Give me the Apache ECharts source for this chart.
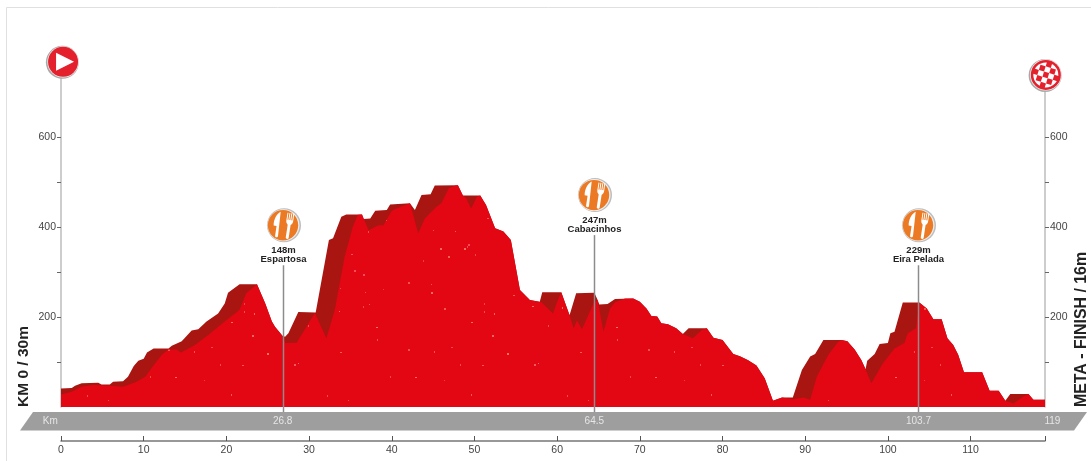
<!DOCTYPE html>
<html><head><meta charset="utf-8">
<style>html,body{margin:0;padding:0;background:#fff}#c{width:1091px;height:461px}</style>
<script src="https://cdn.jsdelivr.net/npm/echarts@6/dist/echarts.min.js"></script>
</head><body><div id="c"></div>
<script>
// Back (dark) profile of the relief
const backKm = [0,1.3,1.7,2.5,4.5,4.9,5.9,6.3,7.5,8.1,8.8,9.35,10,10.4,11.2,13,13.4,14.6,15.8,16.6,17.6,19,19.8,20.2,21.6,23.7,24.7,25.5,25.9,26.8,27.1,27.5,28.7,30.8,32.4,32.9,33.9,34.5,36.4,36.6,37.4,38,39.4,39.8,42.2,42.8,43.6,44.7,45.2,48,48.6,50.7,51.4,52.5,53.5,54.4,55.5,56.7,57.9,58.2,60.5,61.5,62.3,64.5,64.9,65.1,66.1,67,69.2,70,70.8,71.4,72.1,72.6,73.4,74.4,75.2,75.9,78.1,78.9,80,81.3,82.1,83.1,84.1,85.1,86.1,87.2,88.5,89.6,90.6,91.2,92.2,94.4,95.1,96,96.8,97.3,97.5,98.4,99,100,100.3,100.8,101.8,103.8,104.7,105.5,106.5,107.2,107.9,108.5,109.2,111.4,112.3,113.4,114.2,114.8,117,117.6,119];
const backElev = [41,42,47,53,54,50,50,56,57,67,91,103,107,121,130,130,136,146,170,173,190,208,230,254,273,273,230,190,178,158,156,164,211,210,371,375,423,428,428,418,419,436,438,450,453,438,471,473,492,493,470,470,449,397,390,371,260,238,234,255,255,204,253,254,238,228,229,240,241,234,219,202,201,186,184,175,162,175,175,154,149,118,113,104,92,64,14,21,21,82,112,118,149,149,146,127,104,84,103,118,140,142,164,167,232,232,219,195,195,153,138,116,77,77,36,36,14,29,29,16,16];
// Front (bright) profile of the relief
const frontKm = [0,1.3,2.5,3.9,5.9,7.5,9,10.2,11,12.2,13,14,14.5,16.2,17.8,19.8,21.6,22.4,23.7,24.7,25.5,25.9,26.8,27.1,28.5,30.7,32.1,33.1,34.3,35.3,35.9,36.4,37.2,38.4,39,40,40.6,42.2,43.2,44,45.4,46,46.9,47.7,48,48.6,49,49.6,50.3,50.7,51.4,52.5,53.5,54.4,55.5,56.7,58.1,59.5,60,60.5,61.5,62,62.4,63,64.4,64.9,65.6,66.4,67,68.2,69.2,70,70.8,71.4,72.1,72.6,73.4,74.4,75.2,76.4,77.5,78.1,78.9,80,81.3,82.1,83.1,84.1,85.1,86.1,87.2,88.5,89.8,90.6,91.4,92.8,94,94.4,95.1,96,96.8,97.3,98,99.4,100.8,102,102.4,103.4,103.8,104.7,105.5,106.5,107.2,107.9,108.5,109.2,111.4,112.3,113.4,114.2,115.2,116.3,117,117.6,119];
const frontElev = [28,34,45,49,47,45,55,67,88,116,128,128,121,138,160,190,216,253,273,230,190,178,158,142,143,209,153,215,334,401,427,428,393,404,404,436,441,453,386,419,445,453,486,492,493,470,464,441,467,470,449,397,390,371,260,238,233,208,234,255,204,175,193,173,230,238,167,219,233,241,241,234,219,202,201,186,184,175,162,153,171,175,154,149,118,113,104,92,64,14,21,17,21,16,67,116,145,149,146,127,104,84,53,97,130,142,164,175,232,219,195,195,153,138,116,77,77,36,36,14,8,22,29,16,16];

// Feed zones
const stopKm = [26.8,64.5,103.7];
const stopTop = [315,382,315];
const stopElev = ['148m','247m','229m'];
const stopName = ['Espartosa','Cabacinhos','Eira Pelada'];

// Start / finish markers
const flagKm = [0.25,119.1];
const flagElev = [767,738];

// Grey km band
const bandKm = [-1.3,26.8,64.5,103.7,119.9];
const bandLabels = ['Km','26.8','64.5','103.7','119'];

// Ticks
const xTicks = [0,10,20,30,40,50,60,70,80,90,100,110,119];
const xLabels = [0,10,20,30,40,50,60,70,80,90,100,110];
const yTicks = [100,200,300,400,500,600];
const yLabels = [200,400,600];

const startText = 'KM 0 / 30m';
const finishText = 'META - FINISH / 16m';

const FONT = '"Liberation Sans", Arial, sans-serif';
const zip = (a,b)=>a.map((v,i)=>[v,b[i]]);

// Speckled fill of the relief
function speckle(){
  const w=240,h=200,cv=document.createElement('canvas');cv.width=w;cv.height=h;
  const g=cv.getContext('2d');g.fillStyle='#e30613';g.fillRect(0,0,w,h);
  let s=7;
  for(let i=0;i<420;i++){
    s=(s*137+59)%4093;const x=s%w;s=(s*137+59)%4093;const y=s%h;s=(s*137+59)%4093;
    g.fillStyle='rgba(250,'+(70+s%50)+','+(70+s%40)+','+(0.2+(s%4)/10)+')';
    g.fillRect(x,y,1+s%2,1+(s>>2)%2);
  }
  return cv;
}
const knifeFork='M6 0C2 3 0 9 1 15L4 15L4 25C4 27 7 27 7 25ZM13 0L13 8C13 10 14 11 15 12L15 25C15 27 18 27 18 25L18 12C19 11 20 10 20 8L20 0L19 0L19 7L18 7L18 0L17 0L17 7L16 7L16 0L15 0L15 7L14 7L14 0Z';

function renderStop(p,api){
  const i=p.dataIndex, top=api.coord([stopKm[i],stopTop[i]]), base=api.coord([stopKm[i],0]);
  const x=Math.round(top[0])+0.5, y=top[1];
  return {type:'group',children:[
    {type:'line',shape:{x1:x,y1:y,x2:x,y2:base[1]+5},style:{stroke:'#8c8c8c',lineWidth:1.5}},
    {type:'circle',shape:{cx:x+0.5,cy:y-40,r:17},style:{fill:'#bdbdbd'}},
    {type:'circle',shape:{cx:x,cy:y-40,r:16},style:{fill:'#eeeeee'}},
    {type:'circle',shape:{cx:x-0.5,cy:y-40,r:15.2},style:{fill:'#ec7a24'}},
    {type:'path',rotation:-0.15,originX:x,originY:y-40,shape:{pathData:knifeFork,x:x-10,y:y-53,width:19,height:26},style:{fill:'#fff'}},
    {type:'text',style:{text:stopElev[i],x:x,y:y-15,align:'center',verticalAlign:'middle',fill:'#222',font:'bold 9.5px '+FONT}},
    {type:'text',style:{text:stopName[i],x:x,y:y-6,align:'center',verticalAlign:'middle',fill:'#222',font:'bold 9.5px '+FONT}}
  ]};
}
function renderFlag(p,api){
  const i=p.dataIndex,c=api.coord([flagKm[i],flagElev[i]]),x=c[0],y=c[1];
  const ch=[
    {type:'circle',shape:{cx:x-0.7,cy:y+0.5,r:16.5},style:{fill:'#a8a8a8'}},
    {type:'circle',shape:{cx:x,cy:y,r:15.7},style:{fill:'#ececec'}}
  ];
  if(i===0){
    ch.push({type:'circle',shape:{cx:x,cy:y,r:15},style:{fill:'#e4202c'}});
    ch.push({type:'polygon',shape:{points:[[x-7,y-9],[x+11,y],[x-7,y+9]]},style:{fill:'#fff'}});
  }else{
    ch.push({type:'circle',shape:{cx:x,cy:y,r:15},style:{fill:'#e4202c'}});
    ch.push({type:'circle',shape:{cx:x,cy:y,r:12.5},style:{fill:'#fff'}});
    const cs=[];const s=5.4;
    for(let r=-2;r<=2;r++)for(let q=-2;q<=2;q++){
      if((r+q)%2===0&&Math.abs(r)+Math.abs(q)<4)
        cs.push({type:'rect',shape:{x:x+q*s-s/2,y:y+r*s-s/2,width:s,height:s},style:{fill:'#e4202c'}});
    }
    ch.push({type:'group',rotation:-0.3,originX:x,originY:y,children:cs});
  }
  return {type:'group',children:ch};
}
function renderBand(p,api){
  const a=api.coord([0,0]),b=api.coord([119,0]);
  const t=a[1]+5,h=18.5;
  return {type:'polygon',shape:{points:[[a[0]-28,t],[b[0]+42,t],[b[0]+29,t+h],[a[0]-41,t+h]]},style:{fill:'#9e9e9e'}};
}
function renderBandText(p,api){
  const i=p.dataIndex,c=api.coord([bandKm[i],0]);
  return {type:'text',style:{text:bandLabels[i],x:c[0],y:c[1]+14.5,align:'center',verticalAlign:'middle',fill:'#e6e6e6',font:'10px '+FONT}};
}
const chart=echarts.init(document.getElementById('c'),null,{renderer:'canvas'});
const axisCommon={type:'value',min:0,max:760,
  axisLine:{show:true,onZero:false,lineStyle:{color:'#bcbcbc',width:1.5}},
  axisTick:{show:true,length:4,lineStyle:{color:'#666',width:1},customValues:yTicks},
  axisLabel:{color:'#444',fontSize:10.5,fontFamily:FONT,margin:5,customValues:yLabels},
  splitLine:{show:false}};
chart.setOption({
  animation:false,backgroundColor:'#fff',
  grid:{left:61,right:46,top:65,bottom:54},
  xAxis:{type:'value',min:0,max:119,offset:34,position:'bottom',
    axisLine:{show:true,onZero:false,lineStyle:{color:'#777',width:1.5}},
    axisTick:{show:true,inside:true,length:5,lineStyle:{color:'#555',width:1},customValues:xTicks},
    axisLabel:{color:'#444',fontSize:10.5,fontFamily:FONT,margin:4,customValues:xLabels,hideOverlap:false},
    splitLine:{show:false}},
  yAxis:[Object.assign({},axisCommon,{position:'left'}),Object.assign({},axisCommon,{position:'right'})],
  graphic:[
    {type:'line',silent:true,z:-1,shape:{x1:6.5,y1:7.5,x2:1091,y2:7.5},style:{stroke:'#e0e0e0',lineWidth:1}},
    {type:'line',silent:true,z:-1,shape:{x1:6.5,y1:7.5,x2:6.5,y2:461},style:{stroke:'#e0e0e0',lineWidth:1}},
    {type:'text',silent:true,x:24,y:366.5,rotation:Math.PI/2,style:{text:startText,align:'center',verticalAlign:'middle',fill:'#222',font:'bold 15.5px '+FONT}},
    {type:'text',silent:true,x:1082,y:329.5,rotation:Math.PI/2,style:{text:finishText,align:'center',verticalAlign:'middle',fill:'#222',font:'bold 15.9px '+FONT}}
  ],
  series:[
    {type:'custom',name:'band',renderItem:renderBand,data:[[0,0]],encode:{x:0,y:1},clip:false,silent:true,z:1},
    {type:'line',name:'back',data:zip(backKm,backElev),showSymbol:false,smooth:false,lineStyle:{width:0},areaStyle:{color:'#a91510',opacity:1},z:2,silent:true},
    {type:'line',name:'front',data:zip(frontKm,frontElev),showSymbol:false,smooth:false,lineStyle:{width:0},areaStyle:{color:{image:speckle(),repeat:'repeat'},opacity:1},z:3,silent:true},
    {type:'custom',name:'bandText',renderItem:renderBandText,data:bandKm.map(k=>[k,0]),encode:{x:0,y:1},clip:false,silent:true,z:4},
    {type:'custom',name:'stops',renderItem:renderStop,data:stopKm.map((k,i)=>[k,stopTop[i]]),encode:{x:0,y:1},clip:false,silent:true,z:5},
    {type:'custom',name:'flags',renderItem:renderFlag,data:flagKm.map((k,i)=>[k,flagElev[i]]),encode:{x:0,y:1},clip:false,silent:true,z:6}
  ]
});
</script></body></html>
